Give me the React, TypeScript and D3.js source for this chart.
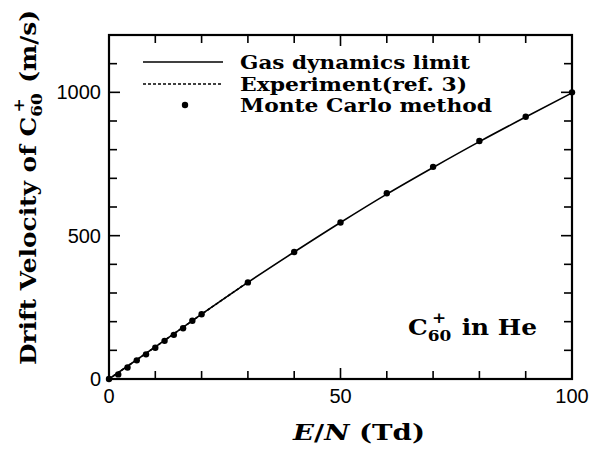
import React from "react";
import * as d3 from "d3";

const gasX = [0, 10, 20, 30, 40, 50, 60, 70, 80, 90, 100];
const gasY = [0, 112, 226, 337, 443, 546, 645, 738, 828, 914, 998];
const expX = [0, 5, 10, 15, 20, 25, 30];
const expY = [0, 56, 112, 169, 226, 282, 338];
const mcX = [0, 2, 4, 6, 8, 10, 12, 14, 16, 18, 20, 30, 40, 50, 60, 70, 80, 90, 100];
const mcY = [0, 16, 40, 65, 86, 109, 133, 154, 177, 203, 226, 337, 443, 546, 648, 740, 830, 915, 1000];
const xMajor = [0, 50, 100];
const yMajor = [0, 500, 1000];
const xMinor = d3.range(0, 101, 10);
const yMinor = d3.range(0, 1201, 100);
const legendLabels = ["Gas dynamics limit", "Experiment(ref. 3)", "Monte Carlo method"];
const legendWidths = [230, 227, 252];

const W = 605, H = 450;
const L = 109, R = 572, T = 35, B = 379;

export default function App() {
  const x = d3.scaleLinear().domain([0, 100]).range([L, R]);
  const y = d3.scaleLinear().domain([0, 1200]).range([B, T]);
  const gasPath = d3.line<[number, number]>().x(d => x(d[0])).y(d => y(d[1])).curve(d3.curveMonotoneX)(gasX.map((v, i) => [v, gasY[i]]));
  const expPath = d3.line<[number, number]>().x(d => x(d[0])).y(d => y(d[1]))(expX.map((v, i) => [v, expY[i]]));
  const serif = "'DejaVu Serif', serif";
  const sans = "'Liberation Sans', Arial, sans-serif";
  return (
    <svg width={W} height={H} style={{ position: "absolute", left: 0, top: 0, background: "#fff" }}>
      <rect x={0} y={0} width={W} height={H} fill="#fff" />
      {xMinor.map(v => {
        const len = xMajor.includes(v) ? 11 : 8;
        return (
          <g key={"xt" + v} stroke="#000" strokeWidth={1.6}>
            <line x1={x(v)} x2={x(v)} y1={B} y2={B - len} />
            <line x1={x(v)} x2={x(v)} y1={T} y2={T + len} />
          </g>
        );
      })}
      {yMinor.map(v => {
        const len = yMajor.includes(v) ? 11 : 8;
        return (
          <g key={"yt" + v} stroke="#000" strokeWidth={1.6}>
            <line x1={L} x2={L + len} y1={y(v)} y2={y(v)} />
            <line x1={R} x2={R - len} y1={y(v)} y2={y(v)} />
          </g>
        );
      })}
      <rect x={L} y={T} width={R - L} height={B - T} fill="none" stroke="#000" strokeWidth={2.2} />
      {xMajor.map(v => (
        <text key={"xl" + v} x={x(v)} y={B + 24} textAnchor="middle" fontFamily={sans} fontSize={20}>{v}</text>
      ))}
      {yMajor.map(v => (
        <text key={"yl" + v} x={L - 8} y={y(v) + 7} textAnchor="end" fontFamily={sans} fontSize={20}>{v}</text>
      ))}
      <path d={gasPath || ""} fill="none" stroke="#000" strokeWidth={1.6} />
      <path d={expPath || ""} fill="none" stroke="#000" strokeWidth={1.6} strokeDasharray="3,2" />
      {mcX.map((v, i) => (
        <circle key={"mc" + i} cx={x(v)} cy={y(mcY[i])} r={3.2} fill="#000" />
      ))}
      <line x1={143} x2={223} y1={62} y2={62} stroke="#000" strokeWidth={1.6} />
      <line x1={143} x2={223} y1={84} y2={84} stroke="#000" strokeWidth={1.6} strokeDasharray="3,2" />
      <circle cx={185} cy={105} r={3.2} fill="#000" />
      {legendLabels.map((t, i) => (
        <text key={t} x={240} y={69 + i * 21.5} fontFamily={serif} fontWeight="bold" fontSize={19}
          textLength={legendWidths[i]} lengthAdjust="spacingAndGlyphs">{t}</text>
      ))}
      <text x={408} y={335} fontFamily={serif} fontWeight="bold" fontSize={22} textLength={129} lengthAdjust="spacingAndGlyphs">
        C<tspan fontSize={15} dy={6}>60</tspan>
        <tspan fontSize={15} dx={-17} dy={-18}>+</tspan>
        <tspan dy={12} dx={6}> in He</tspan>
      </text>
      <text x={293} y={440} fontFamily={serif} fontWeight="bold" fontSize={22} textLength={132} lengthAdjust="spacingAndGlyphs">
        <tspan fontStyle="italic">E</tspan>/<tspan fontStyle="italic">N</tspan> (Td)
      </text>
      <text transform={`translate(36, 365) rotate(-90)`} fontFamily={serif} fontWeight="bold" fontSize={22}
        textLength={355} lengthAdjust="spacingAndGlyphs">
        Drift Velocity of C<tspan fontSize={15} dy={6}>60</tspan>
        <tspan fontSize={15} dx={-17} dy={-18}>+</tspan>
        <tspan dy={12} dx={6}> (m/s)</tspan>
      </text>
    </svg>
  );
}
